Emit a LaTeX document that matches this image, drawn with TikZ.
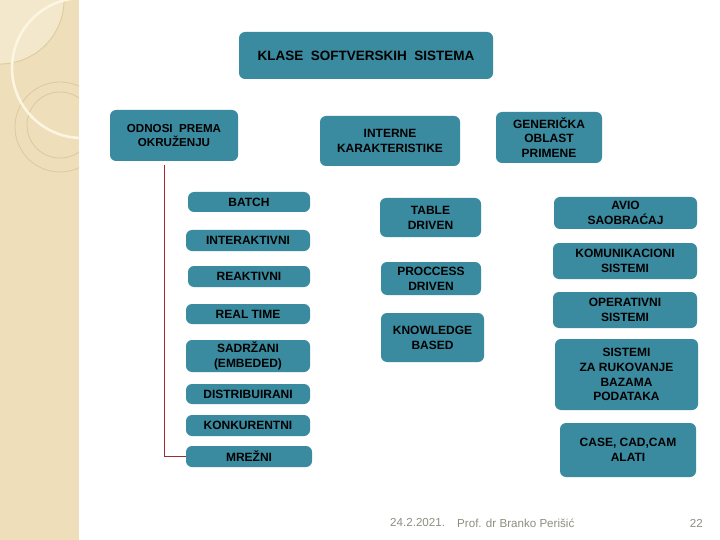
\documentclass[tikz,border=0pt]{standalone}
\usepackage{fontspec}
\setmainfont{Liberation Sans}
\definecolor{boxteal}{HTML}{3A8BA0}
\definecolor{stripbg}{HTML}{EEDFBA}
\definecolor{striplight}{HTML}{F3E8CC}
\definecolor{striparc}{HTML}{FBF5E2}
\definecolor{stripline}{HTML}{DCC89E}
\definecolor{linkred}{HTML}{9E2B2E}
\definecolor{footgray}{HTML}{8E8E80}
\tikzset{
  box/.style={fill=boxteal, rounded corners=6pt, inner sep=0pt, align=center,
    font=\bfseries\fontsize{12}{14.8}\selectfont, text=black},
  link/.style={draw=linkred, line width=0.9pt},
  foot/.style={font=\fontsize{11.6}{13}\selectfont, text=footgray, inner sep=0pt}
}
\begin{document}
\begin{tikzpicture}[x=1pt,y=-1pt]
\useasboundingbox (0,0) rectangle (720,540);
% left decorative strip
\fill[white] (0,0) rectangle (720,540);
\begin{scope}
  \clip (0,0) rectangle (79,540);
  \fill[stripbg] (0,0) rectangle (79,540);
  \fill[striplight] (0,0) circle[radius=64];
  \draw[stripline, line width=0.8pt] (0,0) circle[radius=64];
  \draw[stripline, line width=0.8pt] (60,127) circle[radius=45];
  \draw[stripline, line width=0.8pt] (60,125) circle[radius=33];
  \draw[striparc, line width=2.6pt] (82,68) circle[radius=70];
\end{scope}

% title
\node[box, minimum width=254, minimum height=47, font=\bfseries\fontsize{13.5}{15}\selectfont] (title) at (366,55.5) {KLASE\ \ SOFTVERSKIH\ \ SISTEMA};

% first level
\node[box, minimum width=128, minimum height=51, font=\bfseries\fontsize{11.6}{14.5}\selectfont] (odnosi) at (174,135.5) {ODNOSI\ \ PREMA\\OKRUŽENJU};
\node[box, minimum width=140, minimum height=50] (interne) at (390,141) {INTERNE\\KARAKTERISTIKE};
\node[box, minimum width=106, minimum height=51] (gener) at (549,137.5) {GENERIČKA\\OBLAST\\PRIMENE};

% left column
\node[box, minimum width=122, minimum height=20] (batch) at (249,202) {BATCH};
\node[box, minimum width=124, minimum height=21] (inter) at (248,240.5) {INTERAKTIVNI};
\node[box, minimum width=122, minimum height=21] (reakt) at (249,276.5) {REAKTIVNI};
\node[box, minimum width=124, minimum height=20] (realt) at (248,314) {REAL TIME};
\node[box, minimum width=124, minimum height=32] (sadrz) at (248,356) {SADRŽANI\\(EMBEDED)};
\node[box, minimum width=124, minimum height=20] (distr) at (248,394) {DISTRIBUIRANI};
\node[box, minimum width=124, minimum height=21] (konk) at (248,425.5) {KONKURENTNI};
\node[box, minimum width=126, minimum height=21] (mrez) at (249,456.5) {MREŽNI};

% middle column
\node[box, minimum width=101, minimum height=39] (table) at (430.5,217.5) {TABLE\\DRIVEN};
\node[box, minimum width=100, minimum height=33] (proc) at (431,278.5) {PROCCESS\\DRIVEN};
\node[box, minimum width=103, minimum height=49] (know) at (432.5,337.5) {KNOWLEDGE\\BASED};

% right column
\node[box, minimum width=143, minimum height=32] (avio) at (625.5,213) {AVIO\\SAOBRAĆAJ};
\node[box, minimum width=144, minimum height=36] (komun) at (625,261) {KOMUNIKACIONI\\SISTEMI};
\node[box, minimum width=144, minimum height=36] (oper) at (625,310) {OPERATIVNI\\SISTEMI};
\node[box, minimum width=143, minimum height=71] (dbms) at (626.5,374.5) {SISTEMI\\ZA RUKOVANJE\\BAZAMA\\PODATAKA};
\node[box, minimum width=136, minimum height=54] (cased) at (628,450) {CASE, CAD,CAM\\ALATI};

% connector
\draw[link] ([xshift=-10pt,yshift=-4pt]odnosi.south) |- (mrez.west);

% footer
\node[foot, anchor=west] (date) at (390,523) {24.2.2021.};
\node[foot, anchor=west] (author) at (457,523) {Prof. dr Branko Perišić};
\node[foot, anchor=east] (page) at (703,523) {22};
\end{tikzpicture}
\end{document}
